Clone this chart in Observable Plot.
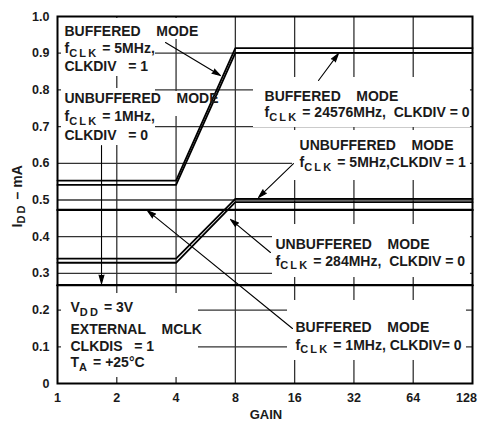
<!DOCTYPE html>
<html><head><meta charset="utf-8">
<script src="https://cdn.jsdelivr.net/npm/d3@7"></script>
<script src="https://cdn.jsdelivr.net/npm/@observablehq/plot@0.6"></script>
<style>
body{margin:0;background:#fff;}
</style>
</head><body>
<div id="chart"></div>
<script>
// ---- data ----
const gains = [1, 2, 4, 8, 16, 32, 64, 128];
const gainLabels = ["1", "2", "4", "8", "16", "32", "64", "128"];
const idd = [0, 0.1, 0.2, 0.3, 0.4, 0.5, 0.6, 0.7, 0.8, 0.9, 1.0];
const iddLabels = ["0", "0.1", "0.2", "0.3", "0.4", "0.5", "0.6", "0.7", "0.8", "0.9", "1.0"];

const buffered5MHzDiv1    = [0.553, 0.553, 0.553, 0.914, 0.914, 0.914, 0.914, 0.914];
const buffered24576Div0   = [0.541, 0.541, 0.541, 0.901, 0.901, 0.901, 0.901, 0.901];
const unbuffered5MHzDiv1  = [0.340, 0.340, 0.340, 0.503, 0.503, 0.503, 0.503, 0.503];
const unbuffered284Div0   = [0.329, 0.329, 0.329, 0.494, 0.494, 0.494, 0.494, 0.494];
const buffered1MHzDiv0    = [0.473, 0.473, 0.473, 0.473, 0.473, 0.473, 0.473, 0.473];
const unbuffered1MHzDiv0  = [0.268, 0.268, 0.268, 0.268, 0.268, 0.268, 0.268, 0.268];

// annotation text lines, anchors (gain, mA) and block backgrounds
const noteLines = [
  "BUFFERED    MODE", "f{CLK} = 5MHz,", "CLKDIV   = 1",
  "UNBUFFERED    MODE", "f{CLK} = 1MHz,", "CLKDIV   = 0",
  "BUFFERED    MODE", "f{CLK} = 24576MHz,  CLKDIV = 0",
  "UNBUFFERED    MODE", "f{CLK} = 5MHz,CLKDIV = 1",
  "UNBUFFERED    MODE", "f{CLK} = 284MHz,  CLKDIV = 0",
  "BUFFERED    MODE", "f{CLK} = 1MHz, CLKDIV= 0",
  "V{DD} = 3V", "EXTERNAL    MCLK", "CLKDIS   = 1", "T{A} = +25°C"
];
const noteGain = [1.085, 1.085, 1.085, 1.085, 1.085, 1.085, 11.25, 11.25, 16.94, 16.94, 12.79, 12.79, 16.16, 16.16, 1.164, 1.164, 1.164, 1.164];
const noteLevel = [0.948, 0.9005, 0.851, 0.763, 0.714, 0.663, 0.771, 0.725, 0.635, 0.589, 0.367, 0.3215, 0.140, 0.0926, 0.1935, 0.136, 0.0899, 0.0436];

const boxGain1 = [1.048, 1.048, 1.048, 3.145, 9.89, 15.6, 12.35, 14.72, 1.048];
const boxGain2 = [5.14, 3.145, 3.145, 6.57, 125.0, 125.0, 125.0, 119.3, 5.20];
const boxLevel1 = [0.9946, 0.9373, 0.8038, 0.7956, 0.8338, 0.6894, 0.4332, 0.2262, 0.2452];
const boxLevel2 = [0.9373, 0.8365, 0.6485, 0.7275, 0.6975, 0.5531, 0.2888, 0.0627, 0.0163];

const arrowGain1 = [3.535, 21.15, 15.78, 12.06, 15.6, 1.673];
const arrowLevel1 = [0.929, 0.8256, 0.599, 0.357, 0.150, 0.6485];
const arrowGain2 = [6.72, 26.7, 10.49, 7.56, 2.864, 1.673];
const arrowLevel2 = [0.839, 0.899, 0.507, 0.447, 0.471, 0.2725];

// ---- tables ----
const pairSeries = [
  ["buffered 5MHz CLKDIV=1", buffered5MHzDiv1],
  ["buffered 2.4576MHz CLKDIV=0", buffered24576Div0],
  ["unbuffered 5MHz CLKDIV=1", unbuffered5MHzDiv1],
  ["unbuffered 2.4576MHz CLKDIV=0", unbuffered284Div0]
].flatMap(([name, vals]) => vals.map((v, i) => ({series: name, gain: gains[i], value: v})));
const flatSeries = [
  ["buffered 1MHz CLKDIV=0", buffered1MHzDiv0],
  ["unbuffered 1MHz CLKDIV=0", unbuffered1MHzDiv0]
].flatMap(([name, vals]) => vals.map((v, i) => ({series: name, gain: gains[i], value: v})));

const nb = s => s.replace(/ /g, "\u00a0");
const notes = noteLines.map((t, i) => ({text: nb(t), gain: noteGain[i], level: noteLevel[i]}));
const boxes = boxGain1.map((g, i) => ({g1: g, g2: boxGain2[i], l1: boxLevel1[i], l2: boxLevel2[i]}));
const arrows = arrowGain1.map((g, i) => ({g1: g, l1: arrowLevel1[i], g2: arrowGain2[i], l2: arrowLevel2[i]}));
const lastGain = gains[gains.length - 1];
const gainLabel = d => gainLabels[gains.indexOf(d)];

const FONT = "'Liberation Sans', Arial, sans-serif";
const INK = "#1a1a1a";

const chart = Plot.plot({
  width: 481,
  height: 421,
  marginLeft: 57,
  marginRight: 9,
  marginTop: 16,
  marginBottom: 38,
  style: {fontFamily: FONT, background: "white", color: INK},
  x: {type: "log", base: 2, domain: [1, 128]},
  y: {domain: [0, 1]},
  marks: [
    Plot.ruleY(idd.slice(1, -1), {stroke: "#333", strokeWidth: 1.3}),
    Plot.ruleX(gains.slice(1, -1), {stroke: "#333", strokeWidth: 1.3}),
    Plot.rect(boxes, {x1: "g1", x2: "g2", y1: "l1", y2: "l2", fill: "white"}),
    Plot.line(pairSeries, {x: "gain", y: "value", z: "series", stroke: "black", strokeWidth: 1.8}),
    Plot.line(flatSeries, {x: "gain", y: "value", z: "series", stroke: "black", strokeWidth: 2.4}),
    Plot.arrow(arrows, {x1: "g1", y1: "l1", x2: "g2", y2: "l2", stroke: "black", fill: "black", strokeWidth: 1.1, headLength: 12, headAngle: 32}),
    Plot.text(notes, {x: "gain", y: "level", text: "text", textAnchor: "start", lineAnchor: "bottom", fontSize: 14, fontWeight: "bold", fill: INK}),
    Plot.frame({stroke: "black", strokeWidth: 2}),
    Plot.axisY(idd, {tickSize: 0, tickPadding: 8, tickFormat: d => iddLabels[idd.indexOf(d)], fontSize: 12.5, fontWeight: "bold", label: null}),
    Plot.axisX(gains.slice(0, -1), {tickSize: 0, tickPadding: 10, tickFormat: gainLabel, fontSize: 12.5, fontWeight: "bold", label: null}),
    Plot.text([lastGain], {x: d => d, frameAnchor: "bottom", dy: 10, dx: -6, lineAnchor: "top", text: gainLabel, fontSize: 12.5, fontWeight: "bold", fill: INK}),
    Plot.text(["GAIN"], {frameAnchor: "bottom", dy: 26, dx: 1, lineAnchor: "top", fontSize: 13, fontWeight: "bold", fill: INK}),
    Plot.text([nb("I{DD} – mA")], {y: 0.51, frameAnchor: "left", dx: -40, rotate: -90, textAnchor: "middle", lineAnchor: "middle", fontSize: 14, fontWeight: "bold", fill: INK})
  ]
});

document.getElementById("chart").appendChild(chart);

// subscripts: text written as f{CLK} becomes f with a lowered, smaller CLK
const SVGNS = "http://www.w3.org/2000/svg";
chart.querySelectorAll("text").forEach(t => {
  const s = t.textContent;
  if (!s.includes("{")) return;
  t.textContent = "";
  let lowered = false;
  s.split(/(\{[^}]*\})/).forEach(p => {
    if (!p) return;
    const ts = document.createElementNS(SVGNS, "tspan");
    if (p.startsWith("{")) {
      ts.textContent = p.slice(1, -1);
      ts.setAttribute("font-size", "11");
      ts.setAttribute("dy", "3.5");
      ts.setAttribute("letter-spacing", "2.2");
      lowered = true;
    } else {
      ts.textContent = p;
      if (lowered) { ts.setAttribute("dy", "-3.5"); lowered = false; }
    }
    t.appendChild(ts);
  });
});
</script>
</body></html>
